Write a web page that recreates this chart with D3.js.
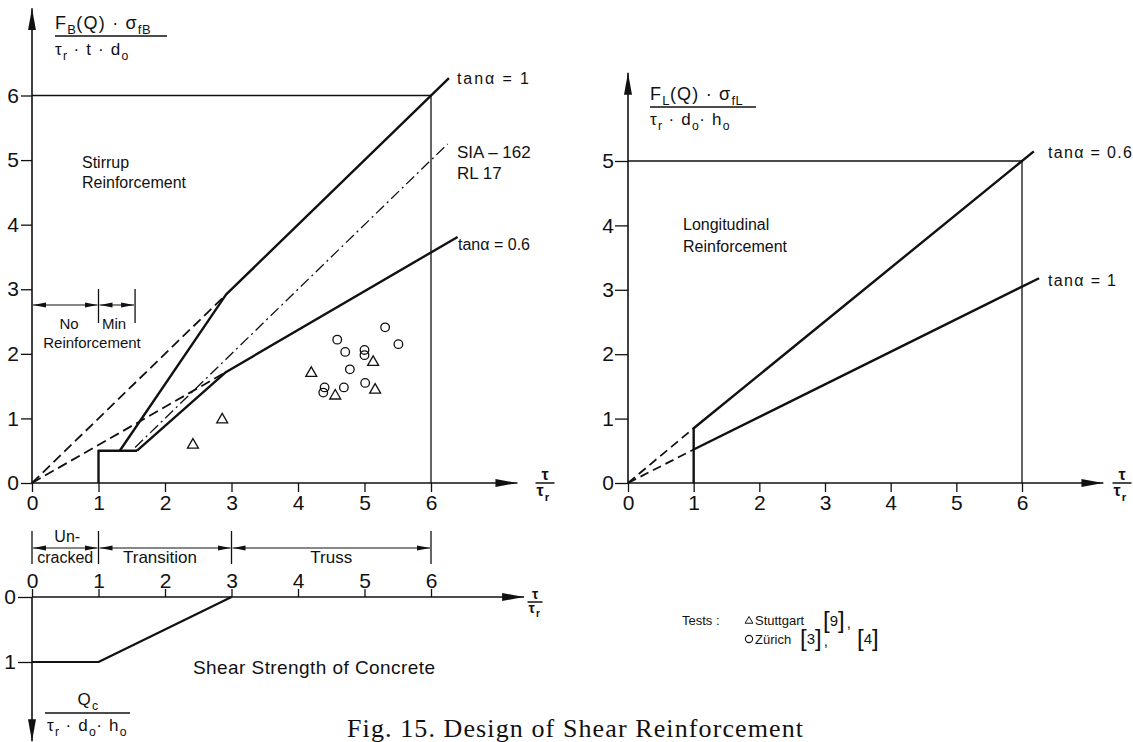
<!DOCTYPE html>
<html>
<head>
  <script src="https://d3js.org/d3.v7.min.js"></script>
  <title>Design of Shear Reinforcement</title>
  <style>
    body { margin: 0; background: #fff; }
    svg text { font-family: "Liberation Sans", Arial, sans-serif; fill: #111; }
    .tick line { stroke: #111; stroke-width: 1.3; }
  </style>
</head>
<body>
<div id="chart"></div>
<script>
  // ---------- data ----------
  const ticksX = [0, 1, 2, 3, 4, 5, 6];
  const ticksStirrup = [0, 1, 2, 3, 4, 5, 6];
  const ticksLong = [0, 1, 2, 3, 4, 5];
  const ticksConcrete = [0, 1];

  // stirrup reinforcement (left chart), points are [tau/tau_r, value]
  const stirrupBase = [[1, 0], [1, 0.5], [1.58, 0.5]];
  const stirrupTan1 = [[1.32, 0.5], [2.92, 2.92], [6.27, 6.27]];
  const stirrupTan06 = [[1.58, 0.5], [2.92, 1.72], [6.4, 3.81]];
  const stirrupSIA = [[1.55, 0.55], [6.25, 5.25]];
  const stirrupDash1 = [[0, 0], [2.92, 2.92]];
  const stirrupDash06 = [[0, 0], [2.92, 1.72]];
  const stirrupFrame = [[0, 6], [6, 6], [6, 0]];

  // tests
  const stuttgartX = [2.42, 2.86, 4.2, 4.56, 5.13, 5.16];
  const stuttgartY = [0.59, 0.98, 1.7, 1.35, 1.87, 1.44];
  const zurichX = [4.59, 4.71, 5.0, 5.0, 4.78, 4.69, 4.38, 4.4, 5.01, 5.31, 5.51];
  const zurichY = [2.22, 2.03, 2.06, 1.98, 1.76, 1.48, 1.40, 1.48, 1.55, 2.41, 2.15];

  // longitudinal reinforcement (right chart)
  const longTan06 = [[1, 0], [1, 0.85], [6.18, 5.15]];
  const longTan1 = [[1, 0.52], [6.26, 3.18]];
  const longDash06 = [[0, 0], [1, 0.85]];
  const longDash1 = [[0, 0], [1, 0.52]];
  const longFrame = [[0, 5], [6, 5], [6, 0]];

  // shear strength of concrete (bottom)
  const concrete = [[0, 1], [1, 1], [3, 0]];

  // ranges
  const regionNames = [["Un-", "cracked"], ["Transition"], ["Truss"]];
  const regionBounds = [0, 1, 3, 6];
  const reinfNames = ["No", "Min"];
  const reinfBounds = [0, 1, 1.55];

  // ---------- drawing ----------
  const svg = d3.select("#chart").append("svg")
    .attr("width", 1133).attr("height", 742);

  const defs = svg.append("defs");
  defs.append("marker").attr("id", "bigArrow")
    .attr("viewBox", "0 0 22 10").attr("refX", 22).attr("refY", 5)
    .attr("markerWidth", 22).attr("markerHeight", 10)
    .attr("markerUnits", "userSpaceOnUse").attr("orient", "auto")
    .append("path").attr("d", "M0,1 L22,5 L0,9 Z").attr("fill", "#111");
  defs.append("marker").attr("id", "smallArrow")
    .attr("viewBox", "0 0 13 6").attr("refX", 13).attr("refY", 3)
    .attr("markerWidth", 13).attr("markerHeight", 6)
    .attr("markerUnits", "userSpaceOnUse").attr("orient", "auto-start-reverse")
    .append("path").attr("d", "M0,0.5 L13,3 L0,5.5 Z").attr("fill", "#111");

  const xL = d3.scaleLinear().domain([0, 6]).range([32, 431]);
  const yL = d3.scaleLinear().domain([0, 6]).range([483, 95.5]);
  const yC = d3.scaleLinear().domain([0, 1]).range([597, 662]);
  const xR = d3.scaleLinear().domain([0, 6]).range([628, 1022]);
  const yR = d3.scaleLinear().domain([0, 5]).range([483, 161]);
  const fmt = d3.format("d");

  function path(g, pts, xs, ys, width, dash) {
    const line = d3.line().x(d => xs(d[0])).y(d => ys(d[1]));
    const p = g.append("path").datum(pts).attr("d", line)
      .attr("fill", "none").attr("stroke", "#111")
      .attr("stroke-width", width).attr("stroke-linejoin", "round");
    if (dash) p.attr("stroke-dasharray", dash);
    return p;
  }

  function arrowAxis(g, x1, y1, x2, y2) {
    g.append("line").attr("x1", x1).attr("y1", y1).attr("x2", x2).attr("y2", y2)
      .attr("stroke", "#111").attr("stroke-width", 1.6)
      .attr("marker-end", "url(#bigArrow)");
  }

  // text with subscripts: parts = [[text, "sub"|""], ...]
  function rich(g, x, y, parts, size, anchor) {
    const t = g.append("text").attr("x", x).attr("y", y)
      .attr("text-anchor", anchor || "start").style("font-size", size + "px");
    let down = false;
    parts.forEach(p => {
      const sub = p[1] === "sub";
      const ts = t.append("tspan").text(p[0])
        .style("font-size", (sub ? size * 0.72 : size) + "px")
        .style("letter-spacing", sub ? "0.5px" : "1.2px");
      if (sub && !down) { ts.attr("dy", size * 0.3); down = true; }
      else if (!sub && down) { ts.attr("dy", -size * 0.3); down = false; }
    });
    return t;
  }
  const sp = "\u00a0";
  const dot = sp + "·" + sp;

  function tauFrac(g, cx, cy, size, w) {
    g.append("text").attr("x", cx).attr("y", cy - 3).attr("text-anchor", "middle")
      .style("font-size", size + "px").style("font-weight", "bold").text("τ");
    g.append("line").attr("x1", cx - w / 2).attr("x2", cx + w / 2)
      .attr("y1", cy).attr("y2", cy).attr("stroke", "#111").attr("stroke-width", 1.5);
    rich(g, cx - w / 2 + 1, cy + size * 0.8, [["τ", ""], ["r", "sub"]], size)
      .style("font-weight", "bold");
  }

  function styleTicks(a) {
    a.select(".domain").remove();
    a.selectAll("text").style("font-size", "21px");
  }

  // ===== left chart: stirrup reinforcement =====
  const gL = svg.append("g");

  gL.append("g").attr("transform", "translate(0,483)")
    .call(d3.axisBottom(xL).tickValues(ticksX).tickFormat(fmt).tickSize(9).tickPadding(3))
    .call(styleTicks);
  gL.append("g").attr("transform", "translate(32,0)")
    .call(d3.axisLeft(yL).tickValues(ticksStirrup).tickFormat(fmt).tickSize(11).tickPadding(2))
    .call(styleTicks);

  arrowAxis(gL, xL(0), yL(0), xL(7.3), yL(0));
  arrowAxis(gL, xL(0), yL(0), xL(0), yL(7.35));
  tauFrac(gL, 545, 483, 16, 19);

  path(gL, stirrupFrame, xL, yL, 1.3);
  path(gL, stirrupDash1, xL, yL, 1.8, "10,5");
  path(gL, stirrupDash06, xL, yL, 1.8, "10,5");
  path(gL, stirrupSIA, xL, yL, 1.3, "11,4,2,4");
  path(gL, stirrupBase, xL, yL, 2.4);
  path(gL, stirrupTan1, xL, yL, 2.4);
  path(gL, stirrupTan06, xL, yL, 2.4);

  gL.selectAll("path.stuttgart")
    .data(d3.zip(stuttgartX, stuttgartY)).join("path").attr("class", "stuttgart")
    .attr("d", d3.symbol(d3.symbolTriangle, 52))
    .attr("transform", d => `translate(${xL(d[0])},${yL(d[1])})`)
    .attr("fill", "none").attr("stroke", "#111").attr("stroke-width", 1.3);
  gL.selectAll("circle.zurich")
    .data(d3.zip(zurichX, zurichY)).join("circle").attr("class", "zurich")
    .attr("cx", d => xL(d[0])).attr("cy", d => yL(d[1])).attr("r", 4.3)
    .attr("fill", "none").attr("stroke", "#111").attr("stroke-width", 1.3);

  // y label
  rich(gL, 55, 29, [["F", ""], ["B", "sub"], ["(Q)" + dot + "σ", ""], ["fB", "sub"]], 18);
  gL.append("line").attr("x1", 55).attr("x2", 167).attr("y1", 36).attr("y2", 36)
    .attr("stroke", "#111").attr("stroke-width", 1.5);
  rich(gL, 55, 55, [["τ", ""], ["r", "sub"], [dot + "t" + dot + "d", ""], ["o", "sub"]], 17);

  gL.append("text").attr("x", 82).attr("y", 168).style("font-size", "16px").text("Stirrup");
  gL.append("text").attr("x", 82).attr("y", 188).style("font-size", "16px").text("Reinforcement");
  gL.append("text").attr("x", 457).attr("y", 84).style("font-size", "16px").attr("textLength", 72).text("tanα = 1");
  gL.append("text").attr("x", 457).attr("y", 158).style("font-size", "17px").text("SIA – 162");
  gL.append("text").attr("x", 457).attr("y", 179).style("font-size", "17px").text("RL  17");
  gL.append("text").attr("x", 458).attr("y", 250).style("font-size", "16px").attr("textLength", 72).text("tanα = 0.6");

  // No / Min reinforcement ranges
  reinfBounds.slice(1).forEach(b => {
    gL.append("line").attr("x1", xL(b)).attr("x2", xL(b)).attr("y1", 289).attr("y2", 323)
      .attr("stroke", "#111").attr("stroke-width", 1.3);
  });
  reinfNames.forEach((n, i) => {
    gL.append("line").attr("x1", xL(reinfBounds[i]) + 1).attr("x2", xL(reinfBounds[i + 1]) - 1)
      .attr("y1", 305).attr("y2", 305).attr("stroke", "#111").attr("stroke-width", 1.2)
      .attr("marker-start", "url(#smallArrow)").attr("marker-end", "url(#smallArrow)");
  });
  gL.append("text").attr("x", 69).attr("y", 329).attr("text-anchor", "middle").style("font-size", "15px").text(reinfNames[0]);
  gL.append("text").attr("x", 114).attr("y", 329).attr("text-anchor", "middle").style("font-size", "15px").text(reinfNames[1]);
  gL.append("text").attr("x", 92).attr("y", 348).attr("text-anchor", "middle").style("font-size", "15px").text("Reinforcement");

  // ===== bottom: shear strength of concrete =====
  const gC = svg.append("g");
  regionBounds.forEach(b => {
    gC.append("line").attr("x1", xL(b)).attr("x2", xL(b)).attr("y1", 531).attr("y2", 564)
      .attr("stroke", "#111").attr("stroke-width", 1.3);
  });
  regionNames.forEach((n, i) => {
    const a = xL(regionBounds[i]), b = xL(regionBounds[i + 1]);
    gC.append("line").attr("x1", a + 1).attr("x2", b - 1).attr("y1", 548).attr("y2", 548)
      .attr("stroke", "#111").attr("stroke-width", 1.2)
      .attr("marker-start", "url(#smallArrow)").attr("marker-end", "url(#smallArrow)");
    const t = gC.append("text").attr("text-anchor", "middle").style("font-size", "17px");
    if (n.length === 2) {
      gC.append("text").attr("x", (a + b) / 2 + 2).attr("y", 542).attr("text-anchor", "middle")
        .style("font-size", "16px").text(n[0]);
      t.attr("x", (a + b) / 2).attr("y", 563).style("font-size", "16px").text(n[1]);
    } else {
      t.attr("x", (a + b) / 2 - (i === 1 ? 5 : 0)).attr("y", 563).text(n[0]);
    }
  });

  gC.append("g").attr("transform", "translate(0,597)")
    .call(d3.axisTop(xL).tickValues(ticksX).tickFormat(fmt).tickSize(8).tickPadding(1))
    .call(styleTicks);
  gC.append("g").attr("transform", "translate(32,0)")
    .call(d3.axisLeft(yC).tickValues(ticksConcrete).tickFormat(fmt).tickSize(14).tickPadding(2))
    .call(styleTicks);
  arrowAxis(gC, xL(0), yC(0), xL(7.4), yC(0));
  arrowAxis(gC, xL(0), yC(0), xL(0), yC(2.22));
  tauFrac(gC, 535, 602, 14, 15);
  path(gC, concrete, xL, yC, 2.2);

  gC.append("text").attr("x", 193).attr("y", 674).style("font-size", "19px")
    .attr("textLength", 242).text("Shear Strength of Concrete");
  rich(gC, 88, 705, [["Q", ""], ["c", "sub"]], 17, "middle");
  gC.append("line").attr("x1", 45).attr("x2", 130).attr("y1", 713).attr("y2", 713)
    .attr("stroke", "#111").attr("stroke-width", 1.5);
  rich(gC, 47, 731, [["τ", ""], ["r", "sub"], [" ·" + sp + "d", ""], ["o", "sub"], ["·" + sp + "h", ""], ["o", "sub"]], 17);

  // ===== right chart: longitudinal reinforcement =====
  const gR = svg.append("g");
  gR.append("g").attr("transform", "translate(0,483)")
    .call(d3.axisBottom(xR).tickValues(ticksX).tickFormat(fmt).tickSize(9).tickPadding(3))
    .call(styleTicks);
  gR.append("g").attr("transform", "translate(628,0)")
    .call(d3.axisLeft(yR).tickValues(ticksLong).tickFormat(fmt).tickSize(13).tickPadding(1))
    .call(styleTicks);
  arrowAxis(gR, xR(0), yR(0), xR(7.24), yR(0));
  arrowAxis(gR, xR(0), yR(0), xR(0), yR(6.37));
  tauFrac(gR, 1122, 483, 16, 19);

  path(gR, longFrame, xR, yR, 1.3);
  path(gR, longDash06, xR, yR, 1.8, "9,5");
  path(gR, longDash1, xR, yR, 1.8, "9,5");
  path(gR, longTan06, xR, yR, 2.4);
  path(gR, longTan1, xR, yR, 2.4);

  rich(gR, 650, 100, [["F", ""], ["L", "sub"], ["(Q)" + dot + "σ", ""], ["fL", "sub"]], 18);
  gR.append("line").attr("x1", 650).attr("x2", 756).attr("y1", 107).attr("y2", 107)
    .attr("stroke", "#111").attr("stroke-width", 1.5);
  rich(gR, 650, 125, [["τ", ""], ["r", "sub"], [dot + "d", ""], ["o", "sub"], ["·" + sp + "h", ""], ["o", "sub"]], 17);

  gR.append("text").attr("x", 683).attr("y", 230).style("font-size", "16px").text("Longitudinal");
  gR.append("text").attr("x", 683).attr("y", 252).style("font-size", "16px").text("Reinforcement");
  gR.append("text").attr("x", 1048).attr("y", 158).style("font-size", "16px").attr("textLength", 84).text("tanα = 0.6");
  gR.append("text").attr("x", 1048).attr("y", 286).style("font-size", "16px").attr("textLength", 68).text("tanα = 1");

  // legend
  const gK = svg.append("g");
  gK.append("text").attr("x", 682).attr("y", 625).style("font-size", "13px").text("Tests :");
  gK.append("path").attr("d", d3.symbol(d3.symbolTriangle, 26))
    .attr("transform", "translate(749,621)")
    .attr("fill", "none").attr("stroke", "#111").attr("stroke-width", 1);
  gK.append("text").attr("x", 755).attr("y", 625).style("font-size", "13px").text("Stuttgart");
  gK.append("circle").attr("cx", 749).attr("cy", 639).attr("r", 3.6)
    .attr("fill", "none").attr("stroke", "#111").attr("stroke-width", 1.1);
  gK.append("text").attr("x", 755).attr("y", 644).style("font-size", "13px").text("Zürich");

  function ref(x, y, label, comma) {
    const t = gK.append("text").attr("x", x).attr("y", y).style("font-size", "15px");
    t.append("tspan").style("font-size", "24px").style("font-weight", "300").text("[");
    t.append("tspan").attr("dy", -2).text(label);
    t.append("tspan").attr("dy", 2).style("font-size", "24px").style("font-weight", "300").text("]");
    if (comma) t.append("tspan").attr("dx", 2).text(",");
  }
  ref(823, 628, "9", true);
  ref(800, 646, "3", true);
  ref(857, 646, "4", false);

  // caption
  svg.append("text").attr("x", 347).attr("y", 737)
    .style("font-family", "'Liberation Serif', 'Times New Roman', serif")
    .style("font-size", "26px").attr("textLength", 456).attr("lengthAdjust", "spacing")
    .text("Fig. 15. Design of Shear Reinforcement");
</script>
</body>
</html>
